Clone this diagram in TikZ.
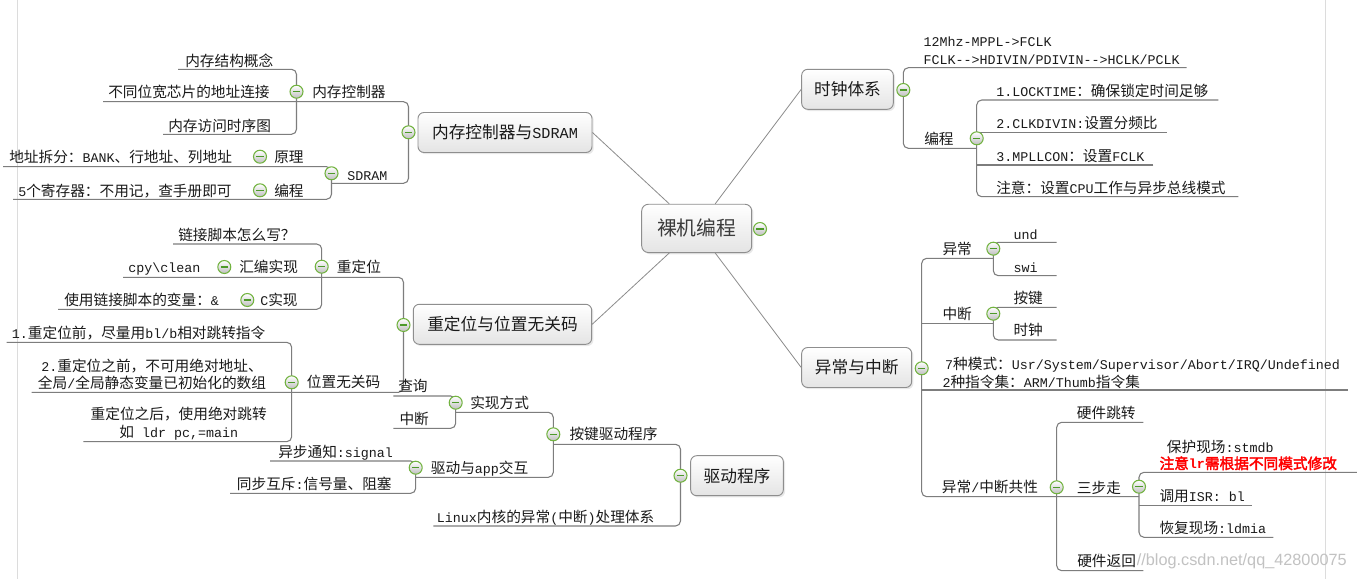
\documentclass[tikz,border=0pt]{standalone}
\usepackage{fontspec}
\setmonofont{Liberation Mono}
\newfontfamily\cjkfont{Noto Sans CJK SC}[Scale=1.1,AutoFakeBold=2.5]
\newfontfamily\wmsans{Liberation Sans}
\usepackage{xcolor}
\usepackage{tikz}
\usetikzlibrary{positioning, backgrounds, shadows, calc}

% CJK runs go to Noto, everything else stays in the mono font
\newXeTeXintercharclass\cjkclass
\newcount\cjkcode
\def\setcjkrange#1#2{%
  \cjkcode=#1
  \loop
    \XeTeXcharclass\cjkcode=\cjkclass
    \advance\cjkcode by 1
  \ifnum\cjkcode<#2 \repeat}
\setcjkrange{"3000}{"3040}
\setcjkrange{"4E00}{"A000}
\setcjkrange{"FF00}{"FFF0}
\XeTeXinterchartoks 0 \cjkclass = {\begingroup\cjkfont}
\XeTeXinterchartoks 4095 \cjkclass = {\begingroup\cjkfont}
\XeTeXinterchartoks \cjkclass 0 = {\endgroup}
\XeTeXinterchartoks \cjkclass 4095 = {\endgroup}
\XeTeXinterchartokenstate=1

\newcommand{\lblfont}{\ttfamily\fontsize{10}{13.2}\selectfont}
\newcommand{\topicfont}{\ttfamily\fontsize{11.4}{14}\selectfont}
\newcommand{\rootfont}{\ttfamily\fontsize{13.5}{16}\selectfont}

\definecolor{ink}{HTML}{1A1A1A}
\definecolor{rootink}{HTML}{3C3C3C}
\definecolor{linegray}{HTML}{7D7D7D}
\definecolor{spokegray}{HTML}{8C8C8C}
\definecolor{boxedge}{HTML}{8E8E8E}
\definecolor{boxbot}{HTML}{E4E4E4}
\definecolor{foldgreen}{HTML}{72B340}
\definecolor{foldbar}{HTML}{4D9A2A}
\definecolor{warnred}{HTML}{FF0000}
\definecolor{pageline}{HTML}{DCDCDC}

\begin{document}
\begin{tikzpicture}[
  x=0.75pt, y=-0.75pt,
  lbl/.style={font=\lblfont, text=ink, inner sep=0pt,
              text height=9.6pt, text depth=1.2pt, anchor=west},
  lbls/.style={font=\lblfont, text=ink, inner sep=0pt, align=#1},
  topic/.style={rectangle, rounded corners=4.5pt, draw=boxedge, line width=0.7pt,
                top color=white, bottom color=boxbot, minimum width=#1,
                minimum height=30pt, inner sep=0pt, font=\topicfont, text=ink,
                drop shadow={shadow xshift=1.3pt, shadow yshift=-1.3pt, opacity=0.18}},
  fold/.style={circle, draw=foldgreen, line width=0.8pt, minimum size=9.75pt,
               inner sep=0pt, top color=white, bottom color=black!25,
               path picture={\draw[foldbar, line width=1.1pt]
                 ([xshift=-2.7pt]path picture bounding box.center) --
                 ([xshift=2.7pt]path picture bounding box.center);}},
  ln/.style={draw=linegray, line width=0.8pt, rounded corners=3.75pt},
  spoke/.style={draw=spokegray, line width=0.6pt}
]
\useasboundingbox (0,0) rectangle (1357,579);

% Topics
\node[topic=82.5pt, minimum height=36.2pt, rounded corners=5pt,
      font=\rootfont, text=rootink] (bRoot) at (696.7,228.4) {裸机编程};
\node[topic=130.5pt] (bMem)   at (505,132.5)   {内存控制器与SDRAM};
\node[topic=133.8pt] (bReloc) at (502.5,324.3) {重定位与位置无关码};
\node[topic=69.5pt]  (bDrv)   at (737,475.7)   {驱动程序};
\node[topic=68.7pt]  (bClk)   at (847.5,89.3)  {时钟体系};
\node[topic=82.5pt]  (bExc)   at (856.7,367.5) {异常与中断};

% Labels, memory branch
\node[lbl] (tMemA)   at (185,60.5)  {内存结构概念};
\node[lbl] (tMemB)   at (108,92)    {不同位宽芯片的地址连接};
\node[lbl] (tMemC)   at (168,125.5) {内存访问时序图};
\node[lbl] (tMemCtl) at (312,92)    {内存控制器};
\node[lbl] (tAddr)   at (9,157)     {地址拆分：BANK、行地址、列地址};
\node[lbl] (tPrin)   at (274,157)   {原理};
\node[lbl] (tReg)    at (18,190.7)  {5个寄存器：不用记，查手册即可};
\node[lbl] (tProgA)  at (274,190.7) {编程};
\node[lbl] (tSdram)  at (347,175)   {SDRAM};

% Labels, relocation branch
\node[lbl] (tLink) at (178,235)   {链接脚本怎么写？};
\node[lbl] (tCpy)  at (128,267)   {cpy\textbackslash clean};
\node[lbl] (tAsm)  at (239,267)   {汇编实现};
\node[lbl] (tRel)  at (336.7,267) {重定位};
\node[lbl] (tVar)  at (64,300)    {使用链接脚本的变量：\&};
\node[lbl] (tC)    at (260,300)   {C实现};
\node[lbl] (tPic)  at (306.7,382.3) {位置无关码};
\node[lbl] (tP1)   at (11.7,333.3) {1.重定位前，尽量用bl/b相对跳转指令};
\node[lbls=center] (tP2) at (152,374.5)
  {2.重定位之前，不可用绝对地址、\\全局/全局静态变量已初始化的数组};
\node[lbls=center] (tP3) at (178.7,423.9)
  {重定位之后，使用绝对跳转\\如 ldr pc,=main};

% Labels, driver branch
\node[lbl] (tQry)   at (398,386)     {查询};
\node[lbl] (tIrq)   at (399.3,419.3) {中断};
\node[lbl] (tImpl)  at (470,403)     {实现方式};
\node[lbl] (tKey)   at (569.3,434.3) {按键驱动程序};
\node[lbl] (tApp)   at (430.7,467.7) {驱动与app交互};
\node[lbl] (tSig)   at (278,451.7)   {异步通知:signal};
\node[lbl] (tSync)  at (236.7,484.3) {同步互斥:信号量、阻塞};
\node[lbl] (tLinux) at (436.7,516.7) {Linux内核的异常(中断)处理体系};

% Labels, clock branch
\node[lbls=left, anchor=west] (tFreq) at (923.3,51)
  {12Mhz-MPPL->FCLK\\FCLK-->HDIVIN/PDIVIN-->HCLK/PCLK};
\node[lbl] (tProgB) at (924,139.3) {编程};
\node[lbl] (tLock)  at (996,91)    {1.LOCKTIME：确保锁定时间足够};
\node[lbl] (tDiv)   at (996,123.3) {2.CLKDIVIN:设置分频比};
\node[lbl] (tMpll)  at (996,156)   {3.MPLLCON：设置FCLK};
\node[lbl] (tNote)  at (996,187.7) {注意：设置CPU工作与异步总线模式};

% Labels, exception branch
\node[lbl] (tAbn)  at (942.3,249.3)  {异常};
\node[lbl] (tUnd)  at (1013.3,234.3) {und};
\node[lbl] (tSwi)  at (1013.3,266.7) {swi};
\node[lbl] (tInt)  at (942.3,314.3)  {中断};
\node[lbl] (tBtn)  at (1013.3,298.3) {按键};
\node[lbl] (tTick) at (1013.3,330)   {时钟};
\node[lbls=left, anchor=west] (tMode) at (942.3,372.7)
  {\hspace*{2pt}7种模式：Usr/System/Supervisor/Abort/IRQ/Undefined\\2种指令集：ARM/Thumb指令集};
\node[lbl] (tCom)  at (941.7,487.3)  {异常/中断共性};
\node[lbl] (tJmp)  at (1076.7,413.3) {硬件跳转};
\node[lbl] (tStep) at (1076.7,487.7) {三步走};
\node[lbl] (tSave) at (1166.7,447.3) {保护现场:stmdb};
\node[lbl, font=\lblfont\bfseries, text=warnred] (tWarn) at (1159.3,463.3) {注意lr需根据不同模式修改};
\node[lbl] (tCall) at (1159.3,496)   {调用ISR: bl};
\node[lbl] (tRest) at (1159.3,528.3) {恢复现场:ldmia};
\node[lbl, fill=white, inner xsep=1pt] (tRet) at (1075.7,561) {硬件返回};

% Fold buttons
\foreach \n/\p in {fMemCtl/{296.5,91.7}, fMem/{408.5,132.3}, fSdram/{331.5,173.3},
                   fPrin/{260,156.7}, fProgA/{260,190.3}, fRel/{321.7,266.7},
                   fAsm/{224.3,267}, fC/{247.3,300}, fReloc/{403.5,325},
                   fPic/{291.7,382.3}, fImpl/{455.7,402.7}, fKey/{553.3,434.3},
                   fApp/{415.7,467.7}, fDrv/{680.5,475.7}, fRoot/{760,229},
                   fClk/{903.3,90}, fProg/{976.7,138.3}, fExc/{921.7,368.3},
                   fAbn/{993.3,248.7}, fInt/{993.3,313.7}, fCom/{1056.7,487.3},
                   fStep/{1139,486.7}}
  \node[fold] (\n) at (\p) {};

% Free ends of the underlines
\coordinate (mA1) at (178,69.3);
\coordinate (mA2) at (103,101.7);
\coordinate (mA3) at (163,134.3);
\coordinate (jSdram) at (331.5,183.3);
\coordinate (sA1) at (3,166.7);
\coordinate (sA2) at (13,199.3);
\coordinate (rA1) at (173,244);
\coordinate (rA2) at (123,277.3);
\coordinate (rA3) at (58,309.3);
\coordinate (pA1) at (6.7,342.3);
\coordinate (pA2) at (31.7,392.3);
\coordinate (pA3) at (83.3,441.7);
\coordinate (dQ) at (393.3,396);
\coordinate (dI) at (393.3,428.3);
\coordinate (jImpl) at (455.7,412.3);
\coordinate (jApp) at (415.7,477.3);
\coordinate (dS1) at (270,461);
\coordinate (dS2) at (230,493.3);
\coordinate (jKey) at (553.3,444.3);
\coordinate (dL) at (433.3,526);
\coordinate (kTop) at (1186.7,67.7);
\coordinate (jProg) at (976.7,148.3);
\coordinate (kL1) at (1218.3,100);
\coordinate (kL2) at (1166.7,132.7);
\coordinate (kL3) at (1153.3,165);
\coordinate (kL4) at (1238.3,196.7);
\coordinate (eAbn) at (993.3,258.3);
\coordinate (eInt) at (993.3,323.3);
\coordinate (eMode) at (1347.7,390);
\coordinate (eCom) at (1139,496.7);
\coordinate (xUnd) at (1056.7,242.3);
\coordinate (xSwi) at (1056.7,275.7);
\coordinate (xKey) at (1056.7,307.3);
\coordinate (xClk) at (1056.7,340);
\coordinate (hJmp) at (1143.3,422.3);
\coordinate (hRet) at (1143.3,570.7);
\coordinate (sSave) at (1357,472.3);
\coordinate (sCall) at (1251.7,505.7);
\coordinate (sRest) at (1273.3,537.3);

\begin{scope}[on background layer]
  \fill[white] (0,0) rectangle (1357,579);
  \draw[pageline] (17.3,0) -- (17.3,579);
  \draw[pageline] (1325.7,0) -- (1325.7,579);
  \node[font=\wmsans\fontsize{12.2}{14}\selectfont, text=black!24, anchor=east,
        inner sep=0pt] (wm) at (1347,561) {https://blog.csdn.net/qq\_42800075};

  % Spokes from the root
  \draw[spoke] (bMem.east)   -- ([xshift=-20.6pt]bRoot.north);
  \draw[spoke] (bReloc.east) -- ([xshift=-20.6pt]bRoot.south);
  \draw[spoke] (bClk.west)   -- ([xshift=13.9pt]bRoot.north);
  \draw[spoke] (bExc.west)   -- ([xshift=13.9pt]bRoot.south);

  % Brackets: first child, fold, last child
  \foreach \a/\f/\b in {mA1/fMemCtl/mA3, mA2/fMem/jSdram, sA1/fSdram/sA2,
                        rA1/fRel/rA3, rA2/fReloc/pA2, pA1/fPic/pA3,
                        dQ/fImpl/dI, jImpl/fKey/jApp, dS1/fApp/dS2, jKey/fDrv/dL,
                        kTop/fClk/jProg, kL1/fProg/kL4,
                        eAbn/fExc/eCom, xUnd/fAbn/xSwi, xKey/fInt/xClk,
                        hJmp/fCom/hRet, sSave/fStep/sRest}
    \draw[ln] (\a) -| (\f.center) |- (\b);

  % Middle children
  \foreach \a/\f in {kL2/fProg, kL3/fProg, eInt/fExc, eMode/fExc, sCall/fStep}
    \draw[ln] (\a) -- (\a -| \f.center);
\end{scope}

\end{tikzpicture}
\end{document}
